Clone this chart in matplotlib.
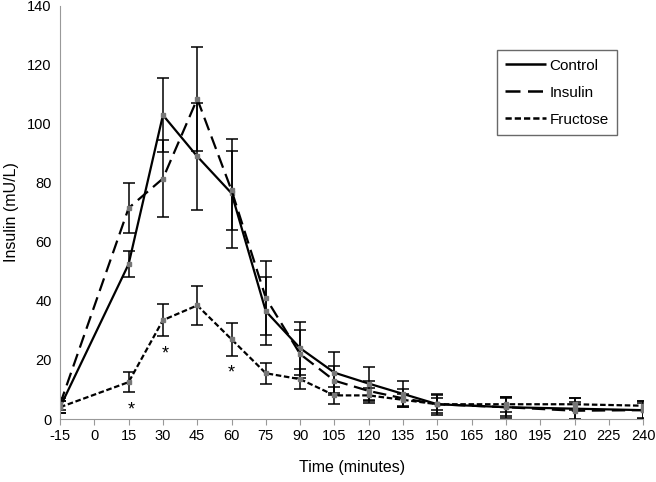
import matplotlib.pyplot as plt
from matplotlib.lines import Line2D

# time points (minutes)
time = [-15, 15, 30, 45, 60, 75, 90, 105, 120, 135, 150, 180, 210, 240]

control = [4, 52.5, 103, 89, 76.5, 36.5, 24, 15.7, 12, 8.5, 5, 4, 3.5, 3]
control_err = [2, 4.5, 12.5, 18, 18.5, 11.5, 9, 7, 5.7, 4.5, 3.5, 3.5, 3.5, 3]

insulin = [5, 71.5, 81.5, 108.5, 77.5, 41, 22, 13, 9.5, 7, 5, 4, 2.8, 3]
insulin_err = [2, 8.5, 13, 17.5, 13.5, 12.5, 8, 5, 3.5, 3, 3, 3, 3, 2.5]

fructose = [4, 12.5, 33.5, 38.5, 27, 15.5, 13.5, 8, 8, 6.5, 5, 5, 5, 4.5]
fructose_err = [2, 3.3, 5.5, 6.5, 5.7, 3.5, 3.5, 3, 2.5, 2, 2, 2.5, 2, 1.5]

# significance marks
star_x = [16, 31, 60]
star_y = [3, 22, 15.5]

xticks = list(range(-15, 241, 15))

plt.rcParams['font.family'] = ['Liberation Sans', 'DejaVu Sans']
plt.rcParams['axes.unicode_minus'] = False

fig = plt.figure(figsize=(6.56, 4.82), dpi=100)
ax = fig.add_axes([0.0915, 0.1307, 0.889, 0.857])

series = [
    ("Control", control, control_err, (0, ())),
    ("Insulin", insulin, insulin_err, (0, (6, 3))),
    ("Fructose", fructose, fructose_err, (0, (2.5, 1.2))),
]
handles = []
for name, vals, err, ls in series:
    ax.errorbar(time, vals, yerr=err, color="black", linestyle=ls, linewidth=1.6,
                marker="s", markersize=3.5, markerfacecolor="#777777",
                markeredgecolor="#777777", ecolor="black", elinewidth=1.1,
                capsize=4, capthick=1.1)
    handles.append(Line2D([], [], color="black", linestyle=ls, linewidth=1.8, label=name))

for x, y in zip(star_x, star_y):
    ax.text(x, y, "*", ha="center", va="center", fontsize=13)

ax.set_xlim(-15, 240)
ax.set_ylim(0, 140)
ax.set_xticks(xticks)
ax.set_yticks(range(0, 141, 20))
ax.tick_params(axis="both", labelsize=10.5, color="#999999", length=4)
ax.tick_params(axis="y", length=0, pad=6)
for s in ["top", "right"]:
    ax.spines[s].set_visible(False)
for s in ["left", "bottom"]:
    ax.spines[s].set_color("#999999")

ax.set_xlabel("Time (minutes)", fontsize=11.5, labelpad=12)
ax.set_ylabel("Insulin (mU/L)", fontsize=11.5, labelpad=6)

leg = ax.legend(handles=handles, loc="upper right", bbox_to_anchor=(0.955, 0.893),
                frameon=True, fancybox=False, fontsize=11, handlelength=2.7,
                handletextpad=0.2, borderpad=0.55, labelspacing=0.85,
                borderaxespad=0)
leg.get_frame().set_edgecolor("#444444")
leg.get_frame().set_linewidth(1.0)

fig.savefig("out.png", dpi=100)
